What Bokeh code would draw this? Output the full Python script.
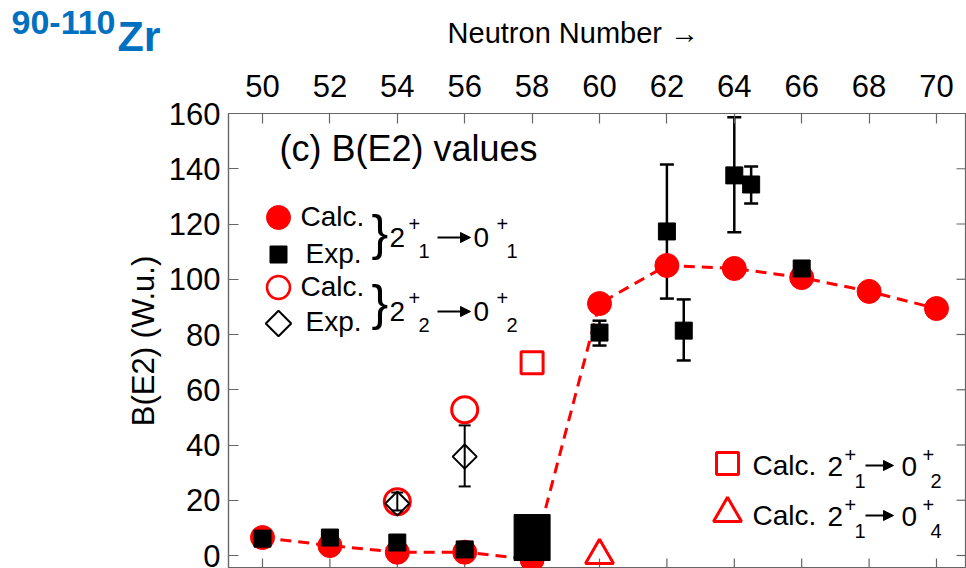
from bokeh.plotting import figure
from bokeh.models import (Range1d, FixedTicker, Label, Whisker, Arrow, NormalHead,
                          TeeHead, ColumnDataSource, Title)
from bokeh.embed import file_html
from bokeh.resources import INLINE
import math

# ---------------- data ----------------
neutron_ticks = [50, 52, 54, 56, 58, 60, 62, 64, 66, 68, 70]
b_ticks = [0, 20, 40, 60, 80, 100, 120, 140, 160]

# Calc. 2+1 -> 0+1
calc1_n = [50, 52, 54, 56, 58, 60, 62, 64, 66, 68, 70]
calc1_b = [6.5, 3.6, 1.2, 1.2, -1.5, 91.2, 105.0, 103.9, 100.6, 95.6, 89.4]

# Exp. 2+1 -> 0+1
exp1_n = [50, 52, 54, 56, 60, 62, 62.5, 64, 64.5, 66]
exp1_b = [6.1, 6.5, 4.7, 2.2, 80.7, 117.3, 81.4, 137.6, 134.3, 103.9]
exp1_err_n = [60, 62, 62.5, 64, 64.5]
exp1_err_lo = [76.0, 93.0, 70.6, 117.0, 127.4]
exp1_err_hi = [85.0, 141.5, 92.7, 158.6, 140.8]
exp58_n = [58]
exp58_b = [6.5]

# Calc. 2+2 -> 0+2
calc2_n = [54, 56]
calc2_b = [19.5, 52.8]

# Exp. 2+2 -> 0+2
exp2_n = [54, 56]
exp2_b = [18.8, 35.8]
exp2_lo = [16.3, 25.0]
exp2_hi = [22.8, 47.1]

# Calc. 2+1 -> 0+2  and  2+1 -> 0+4
calc3_n = [58]
calc3_b = [69.8]
calc4_n = [60]
calc4_b = [0.0]

# ---------------- layout helpers (page pixel -> data) ----------------
FONT = "Liberation Sans"
RED = "#ff0000"
BLUE = "#0070C0"
AX = "#666666"
W, H = 966, 568
FRAME_LEFT, FRAME_TOP = 228, 113
X0_PX, X_PER = 262.0, 33.7
Y0_PX, Y_PER = 555.0, 2.7625


def dx(px):
    return 50 + (px - X0_PX) / X_PER


def dy(py):
    return (Y0_PX - py) / Y_PER


X_START, X_END = dx(FRAME_LEFT), dx(W)
Y_START, Y_END = dy(H), 160

p = figure(width=W, height=H, output_backend="svg", toolbar_location=None,
           x_range=Range1d(X_START, X_END), y_range=Range1d(Y_START, Y_END),
           x_axis_location="above", y_axis_location="left",
           min_border_left=FRAME_LEFT, min_border_top=FRAME_TOP,
           min_border_right=0, min_border_bottom=0)
p.grid.visible = False
p.outline_line_color = AX
p.outline_line_width = 1.2
p.background_fill_color = "white"
p.border_fill_color = "white"


def style_axis(ax):
    ax.major_tick_in = 10
    ax.major_tick_out = 0
    ax.minor_tick_line_color = None
    ax.major_tick_line_color = AX
    ax.major_tick_line_width = 1.2
    ax.axis_line_color = AX
    ax.axis_line_width = 1.2
    ax.major_label_text_font = FONT
    ax.major_label_text_color = "black"
    ax.major_label_text_font_size = "31px"
    ax.axis_label_text_font = FONT
    ax.axis_label_text_font_style = "normal"
    ax.axis_label_text_color = "black"


xa = p.xaxis[0]
xa.ticker = FixedTicker(ticks=neutron_ticks)
style_axis(xa)
xa.major_label_standoff = 17
xa.axis_label = "Neutron Number \u2192" + "\u00a0" * 6
xa.axis_label_text_font_size = "29px"
xa.axis_label_standoff = 23

ya = p.yaxis[0]
ya.ticker = FixedTicker(ticks=b_ticks)
style_axis(ya)
ya.major_label_standoff = 8
ya.axis_label = "B(E2) (W.u.)"
ya.axis_label_text_font_size = "31px"
ya.axis_label_standoff = 5

# inward ticks on the bottom and right frame edges (same tick lists)
tick_len_y = 10 / Y_PER
tick_len_x = 10 / X_PER
p.segment(x0=neutron_ticks, y0=[Y_START] * len(neutron_ticks),
          x1=neutron_ticks, y1=[Y_START + tick_len_y] * len(neutron_ticks),
          line_color=AX, line_width=1.2)
p.segment(x0=[X_END - tick_len_x] * len(b_ticks), y0=b_ticks,
          x1=[X_END] * len(b_ticks), y1=b_ticks,
          line_color=AX, line_width=1.2)

# ---------------- data marks ----------------
p.line(calc1_n, calc1_b, line_color=RED, line_width=3, line_dash="11 7")
p.scatter(calc1_n, calc1_b, marker="circle", size=24, fill_color=RED, line_color=RED)
p.scatter(calc2_n, calc2_b, marker="circle", size=26, fill_color=None,
          line_color=RED, line_width=3)
p.scatter(exp1_n, exp1_b, marker="square", size=17, fill_color="black", line_color="black")
p.rect(exp58_n, exp58_b, width=36, height=46, width_units="screen", height_units="screen",
       fill_color="black", line_color="black")

err_src = ColumnDataSource(dict(n=exp1_err_n, lo=exp1_err_lo, hi=exp1_err_hi))
p.add_layout(Whisker(source=err_src, base="n", lower="lo", upper="hi", dimension="height",
                     line_color="black", line_width=2.5,
                     upper_head=TeeHead(size=14, line_color="black", line_width=2.5),
                     lower_head=TeeHead(size=14, line_color="black", line_width=2.5)))

p.scatter(exp2_n, exp2_b, marker="square", angle=math.pi / 4, size=17, fill_color=None,
          line_color="black", line_width=2)
err2_src = ColumnDataSource(dict(n=exp2_n, lo=exp2_lo, hi=exp2_hi))
p.add_layout(Whisker(source=err2_src, base="n", lower="lo", upper="hi", dimension="height",
                     line_color="black", line_width=2,
                     upper_head=TeeHead(size=12, line_color="black", line_width=2),
                     lower_head=TeeHead(size=12, line_color="black", line_width=2)))

p.scatter(calc3_n, calc3_b, marker="square", size=22, fill_color=None,
          line_color=RED, line_width=3)
p.scatter(calc4_n, calc4_b, marker="triangle", size=28, fill_color=None,
          line_color=RED, line_width=3)


# ---------------- annotations ----------------
def label(px, pcy, text, size, color="black", bold=False):
    """left edge px, visual vertical centre pcy (page pixels)"""
    p.add_layout(Label(x=dx(px), y=dy(pcy), text=text, text_font=FONT,
                       text_font_size=f"{size}px", text_color=color,
                       text_font_style="bold" if bold else "normal",
                       text_align="left", text_baseline="middle"))


def arrow(px0, px1, pcy):
    p.add_layout(Arrow(x_start=dx(px0), y_start=dy(pcy), x_end=dx(px1), y_end=dy(pcy),
                       line_color="black", line_width=2,
                       end=NormalHead(size=10, fill_color="black", line_color="black",
                                      line_width=1)))


# title: zero-height side panels above the top axis (side panels are not clipped);
# the negative standoff pushes the bottom-anchored text down to its place
p.add_layout(Title(text="90-110", align="left", vertical_align="bottom",
                   offset=11 - FRAME_LEFT, standoff=-41,
                   text_font=FONT, text_font_size="34px", text_font_style="bold",
                   text_color=BLUE), "above")
p.add_layout(Title(text="Zr", align="left", vertical_align="bottom",
                   offset=117 - FRAME_LEFT, standoff=-93,
                   text_font=FONT, text_font_size="43px", text_font_style="bold",
                   text_color=BLUE), "above")

label(279, 148, "(c) B(E2) values", 36)

# upper-left key swatches
p.scatter([dx(278)], [dy(217)], marker="circle", size=24, fill_color=RED, line_color=RED)
p.scatter([dx(278)], [dy(254)], marker="square", size=17, fill_color="black", line_color="black")
p.scatter([dx(278)], [dy(287)], marker="circle", size=23, fill_color=None,
          line_color=RED, line_width=2.5)
p.scatter([dx(278)], [dy(323)], marker="square", angle=math.pi / 4, size=18, fill_color=None,
          line_color="black", line_width=2)

label(300, 216, "Calc.", 28)
label(305, 253, "Exp.", 28)
label(300, 286, "Calc.", 28)
label(305, 321, "Exp.", 28)


def transition(x0, cy, sub1, sub2, brace_cy):
    label(x0 - 18, brace_cy - 4, "}", 50)
    label(x0, cy, "2", 28)
    label(x0 + 19, cy - 14, "+", 20)
    label(x0 + 29, cy + 13, sub1, 20)
    arrow(x0 + 48, x0 + 81, cy)
    label(x0 + 84, cy, "0", 28)
    label(x0 + 107, cy - 14, "+", 20)
    label(x0 + 117, cy + 13, sub2, 20)


transition(389, 237, "1", "1", 236)
transition(389, 311, "2", "2", 306)

# lower-right key
p.scatter([dx(727)], [dy(463)], marker="square", size=22, fill_color=None,
          line_color=RED, line_width=3)
p.scatter([dx(727)], [dy(513)], marker="triangle", size=28, fill_color=None,
          line_color=RED, line_width=3)
label(752, 465, "Calc.", 28)
label(752, 515, "Calc.", 28)


def transition2(cy, sub2):
    label(827, cy, "2", 28)
    label(844, cy - 12, "+", 20)
    label(854, cy + 14, "1", 20)
    arrow(865, 893, cy - 1)
    label(901, cy, "0", 28)
    label(922, cy - 12, "+", 20)
    label(930, cy + 14, sub2, 20)


transition2(466, "2")
transition2(516, "4")

open("out.html", "w").write(file_html(p, INLINE))
